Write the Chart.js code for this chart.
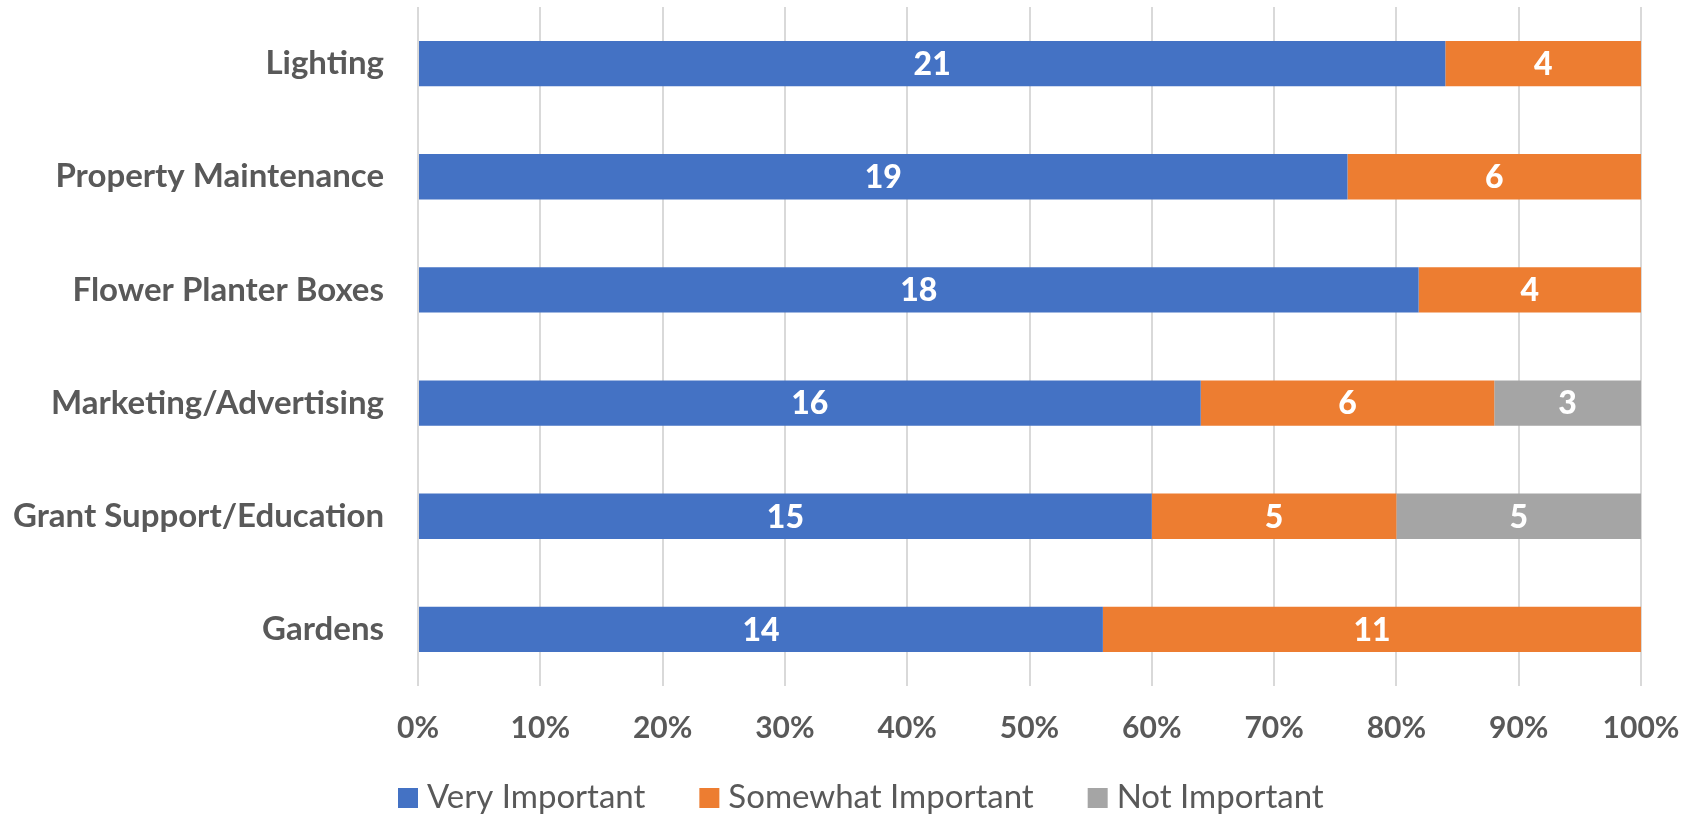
<!DOCTYPE html>
<html>
<head>
<meta charset="utf-8">
<title>Downtown Improvement Priorities</title>
<script src="https://cdn.jsdelivr.net/npm/chart.js@4.4.1/dist/chart.umd.min.js"></script>
<style>
  html, body { margin: 0; padding: 0; background: #ffffff; }
  #wrap { width: 1694px; height: 816px; position: relative; }
</style>
</head>
<body>
<div id="wrap"><canvas id="chart" width="1694" height="816"></canvas></div>
<script>
// Survey responses per improvement area (number of respondents)
const categories = [
  'Lighting',
  'Property Maintenance',
  'Flower Planter Boxes',
  'Marketing/Advertising',
  'Grant Support/Education',
  'Gardens'
];
const veryImportant     = [21, 19, 18, 16, 15, 14];
const somewhatImportant = [4, 6, 4, 6, 5, 11];
const notImportant      = [0, 0, 0, 3, 5, 0];

const seriesNames = ['Very Important', 'Somewhat Important', 'Not Important'];
const xTickValues = [0, 10, 20, 30, 40, 50, 60, 70, 80, 90, 100];

const TEXT = '#595959';
const FONT = 'Lato, "Open Sans", "DejaVu Sans", sans-serif';

// 100% stacked: each segment is its count's share of the row total
const counts = [veryImportant, somewhatImportant, notImportant];
const totals = categories.map((_, i) => counts.reduce((s, arr) => s + arr[i], 0));
const shares = counts.map(arr => arr.map((v, i) => v === 0 ? null : v / totals[i] * 100));

const colors = ['#4472C4', '#ED7D31', '#A5A5A5'];

// Writes the respondent count in the middle of every segment
const segmentLabels = {
  id: 'segmentLabels',
  afterDatasetsDraw(chart) {
    const ctx = chart.ctx;
    ctx.save();
    ctx.fillStyle = '#ffffff';
    ctx.font = '900 32px ' + FONT;
    ctx.textAlign = 'center';
    ctx.textBaseline = 'middle';
    chart.data.datasets.forEach((ds, di) => {
      const meta = chart.getDatasetMeta(di);
      meta.data.forEach((bar, i) => {
        const n = counts[di][i];
        if (!n) return;
        const p = bar.getProps(['x', 'y', 'base'], true);
        ctx.fillText(String(n), (p.x + p.base) / 2, p.y + 1);
      });
    });
    ctx.restore();
  }
};

// Legend row under the axis: square swatch, then the series name
const legendRow = {
  id: 'legendRow',
  afterDraw(chart) {
    const ctx = chart.ctx;
    const box = 20, gapText = 9, gapItem = 54, centerX = 861, centerY = 798;
    ctx.save();
    ctx.font = '33px ' + FONT;
    ctx.textBaseline = 'middle';
    ctx.textAlign = 'left';
    const widths = seriesNames.map(n => ctx.measureText(n).width);
    const total = widths.reduce((s, w) => s + box + gapText + w, 0) + gapItem * (seriesNames.length - 1);
    let x = Math.round(centerX - total / 2);
    seriesNames.forEach((name, k) => {
      ctx.fillStyle = colors[k];
      ctx.fillRect(x, centerY - box / 2, box, box);
      ctx.fillStyle = TEXT;
      ctx.fillText(name, x + box + gapText, centerY - 1);
      x += box + gapText + widths[k] + gapItem;
    });
    ctx.restore();
  }
};

new Chart(document.getElementById('chart'), {
  type: 'bar',
  data: {
    labels: categories,
    datasets: seriesNames.map((name, k) => ({
      label: name,
      data: shares[k],
      backgroundColor: colors[k],
      borderWidth: 0,
      barPercentage: 0.4,
      categoryPercentage: 1.0
    }))
  },
  options: {
    indexAxis: 'y',
    responsive: false,
    animation: false,
    layout: { padding: { top: 7, right: 53, left: 0, bottom: 60 } },
    scales: {
      x: {
        stacked: true,
        min: 0,
        max: 100,
        afterBuildTicks(scale) {
          scale.ticks = xTickValues.map(v => ({ value: v }));
        },
        afterFit(scale) {
          scale.height = 70;
          scale.paddingLeft = 0;
          scale.paddingRight = 0;
        },
        grid: { color: '#D9D9D9', lineWidth: 2, drawTicks: false },
        border: { display: false },
        ticks: {
          padding: 24,
          color: TEXT,
          font: { family: FONT, size: 30, weight: 'bold' },
          callback: v => v + '%'
        }
      },
      y: {
        stacked: true,
        afterFit(scale) {
          scale.width = 418;
          scale.paddingTop = 0;
          scale.paddingBottom = 0;
        },
        grid: { display: false, drawTicks: false },
        border: { display: false },
        ticks: {
          padding: 34,
          color: TEXT,
          font: { family: FONT, size: 33, weight: 'bold' }
        }
      }
    },
    plugins: {
      legend: { display: false },
      tooltip: { enabled: false }
    }
  },
  plugins: [segmentLabels, legendRow]
});
</script>
</body>
</html>
